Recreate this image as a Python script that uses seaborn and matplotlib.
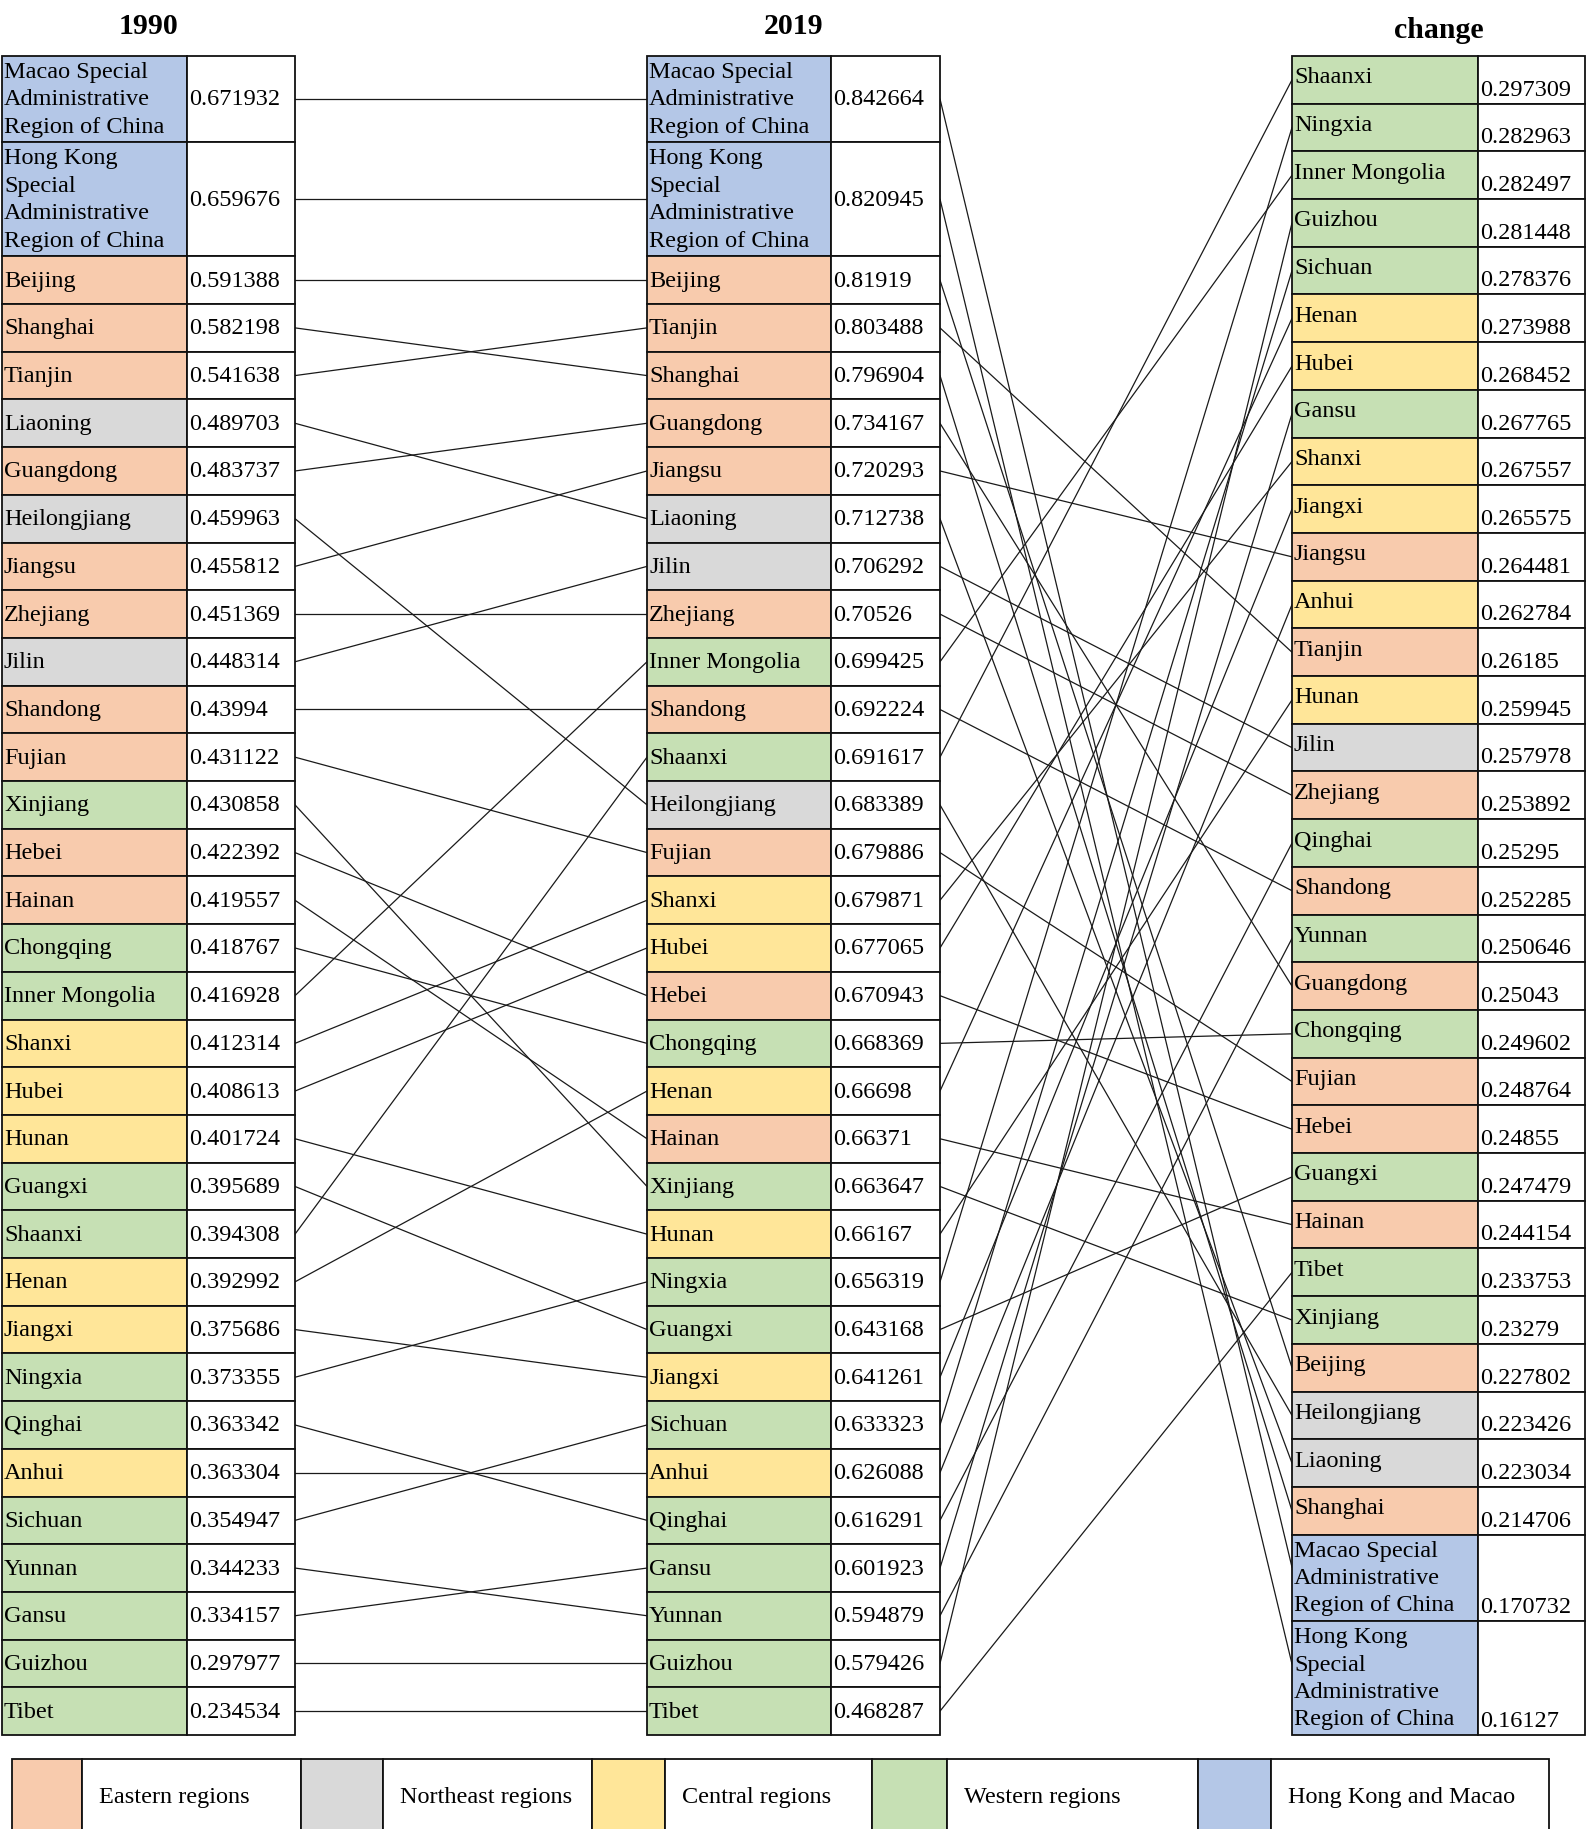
import numpy as np
import pandas as pd
import seaborn as sns
import matplotlib.pyplot as plt
from matplotlib.patches import Rectangle

# ---- data ----
provinces = ['Macao', 'Hong Kong', 'Beijing', 'Shanghai', 'Tianjin', 'Liaoning', 'Guangdong',
             'Heilongjiang', 'Jiangsu', 'Zhejiang', 'Jilin', 'Shandong', 'Fujian', 'Xinjiang',
             'Hebei', 'Hainan', 'Chongqing', 'Inner Mongolia', 'Shanxi', 'Hubei', 'Hunan',
             'Guangxi', 'Shaanxi', 'Henan', 'Jiangxi', 'Ningxia', 'Qinghai', 'Anhui', 'Sichuan',
             'Yunnan', 'Gansu', 'Guizhou', 'Tibet']
region = ['HKM', 'HKM', 'E', 'E', 'E', 'NE', 'E', 'NE', 'E', 'E', 'NE', 'E', 'E', 'W',
          'E', 'E', 'W', 'W', 'C', 'C', 'C', 'W', 'W', 'C', 'C', 'W', 'W', 'C', 'W',
          'W', 'W', 'W', 'W']
score_1990 = [0.671932, 0.659676, 0.591388, 0.582198, 0.541638, 0.489703, 0.483737,
              0.459963, 0.455812, 0.451369, 0.448314, 0.43994, 0.431122, 0.430858,
              0.422392, 0.419557, 0.418767, 0.416928, 0.412314, 0.408613, 0.401724,
              0.395689, 0.394308, 0.392992, 0.375686, 0.373355, 0.363342, 0.363304,
              0.354947, 0.344233, 0.334157, 0.297977, 0.234534]
score_2019 = [0.842664, 0.820945, 0.81919, 0.796904, 0.803488, 0.712738, 0.734167,
              0.683389, 0.720293, 0.70526, 0.706292, 0.692224, 0.679886, 0.663647,
              0.670943, 0.66371, 0.668369, 0.699425, 0.679871, 0.677065, 0.66167,
              0.643168, 0.691617, 0.66698, 0.641261, 0.656319, 0.616291, 0.626088,
              0.633323, 0.594879, 0.601923, 0.579426, 0.468287]
score_change = [0.170732, 0.16127, 0.227802, 0.214706, 0.26185, 0.223034, 0.25043,
                0.223426, 0.264481, 0.253892, 0.257978, 0.252285, 0.248764, 0.23279,
                0.24855, 0.244154, 0.249602, 0.282497, 0.267557, 0.268452, 0.259945,
                0.247479, 0.297309, 0.273988, 0.265575, 0.282963, 0.25295, 0.262784,
                0.278376, 0.250646, 0.267765, 0.281448, 0.233753]

long_names = {'Macao': 'Macao Special\nAdministrative\nRegion of China',
              'Hong Kong': 'Hong Kong\nSpecial\nAdministrative\nRegion of China'}

region_keys = ['E', 'NE', 'C', 'W', 'HKM']
region_labels = ['Eastern regions', 'Northeast regions', 'Central regions',
                 'Western regions', 'Hong Kong and Macao']
region_colors = ['#F8CBAD', '#D9D9D9', '#FFE699', '#C6E0B4', '#B4C7E7']
col_titles = ['1990', '2019', 'change']

# ---- layout (pixels) ----
W, H = 1586, 1829
col_edges = [(2, 187, 295), (647, 831, 940), (1292, 1478, 1585)]
table_top, table_bottom = 56, 1735
tall_rows = {'Macao': 1.8, 'Hong Kong': 2.4}
legend_edges = [12, 82, 301, 383, 592, 665, 872, 947, 1198, 1271, 1549]
legend_top = 1759
FS = 17.5
LS = 1.4

sns.set_theme(style='white')
plt.rcParams['font.family'] = ['Liberation Serif', 'DejaVu Serif']
plt.rcParams['text.color'] = 'black'

df = pd.DataFrame({'name': provinces, 'region': region, 'y1990': score_1990,
                   'y2019': score_2019, 'change': score_change})
df['units'] = df['name'].map(tall_rows).fillna(1.0)
unit_h = (table_bottom - table_top) / df['units'].sum()
color_of = dict(zip(region_keys, region_colors))

fig = plt.figure(figsize=(W / 100, H / 100), dpi=100)
ax = fig.add_axes([0, 0, 1, 1])

row_pos = {}
for c, col in enumerate(['y1990', 'y2019', 'change']):
    order = df.sort_values(col, ascending=False)
    x0, x1, x2 = col_edges[c]
    y = table_top
    pos = {}
    for _, r in order.iterrows():
        h = r['units'] * unit_h
        ax.add_patch(Rectangle((x0, y), x1 - x0, h, facecolor=color_of[r['region']],
                               edgecolor='#111111', lw=1.3))
        ax.add_patch(Rectangle((x1, y), x2 - x1, h, facecolor='white',
                               edgecolor='#111111', lw=1.3))
        label = long_names.get(r['name'], r['name'])
        if c < 2:
            ax.text(x0 + 2, y + h / 2 + 1, label, fontsize=FS, va='center', ha='left',
                    linespacing=LS)
            ax.text(x1 + 2, y + h / 2 + 1, str(r[col]), fontsize=FS, va='center', ha='left')
            pos[r['name']] = y + h / 2
        else:
            ax.text(x0 + 2, y + h / 2 - 2 if h < 60 else y + h / 2 + 1, label, fontsize=FS,
                    va='center', ha='left', linespacing=LS)
            ax.text(x1 + 2, y + h - 3, str(r[col]), fontsize=FS, va='bottom', ha='left')
            pos[r['name']] = y + h / 2 if h < 60 else y + h * 0.38
        y += h
    row_pos[c] = pos
    ax.text((x0 + x2) / 2, 26 if c < 2 else 30, col_titles[c], fontsize=21.5,
            fontweight='bold', ha='center', va='center')

# connector lines drawn with seaborn
segs = []
for i, name in enumerate(provinces):
    segs += [(f'a{i}', col_edges[0][2], row_pos[0][name]),
             (f'a{i}', col_edges[1][0], row_pos[1][name]),
             (f'b{i}', col_edges[1][2], row_pos[1][name]),
             (f'b{i}', col_edges[2][0], row_pos[2][name])]
seg_df = pd.DataFrame(segs, columns=['seg', 'x', 'y'])
sns.lineplot(data=seg_df, x='x', y='y', units='seg', estimator=None, sort=False,
             color='#1a1a1a', lw=0.9, ax=ax, zorder=0)

# legend table at the bottom
for k in range(len(region_labels)):
    xs, xm, xe = legend_edges[2 * k], legend_edges[2 * k + 1], legend_edges[2 * k + 2]
    ax.add_patch(Rectangle((xs, legend_top), xm - xs, 100, facecolor=region_colors[k],
                           edgecolor='#111111', lw=1.3))
    ax.add_patch(Rectangle((xm, legend_top), xe - xm, 100, facecolor='white',
                           edgecolor='#111111', lw=1.3))
    ax.text(xm + 17, 1798, region_labels[k], fontsize=FS, va='center', ha='left')

ax.set_xlim(0, W)
ax.set_ylim(H, 0)
ax.set_xlabel('')
ax.set_ylabel('')
ax.axis('off')
fig.savefig('out.png', dpi=100)
